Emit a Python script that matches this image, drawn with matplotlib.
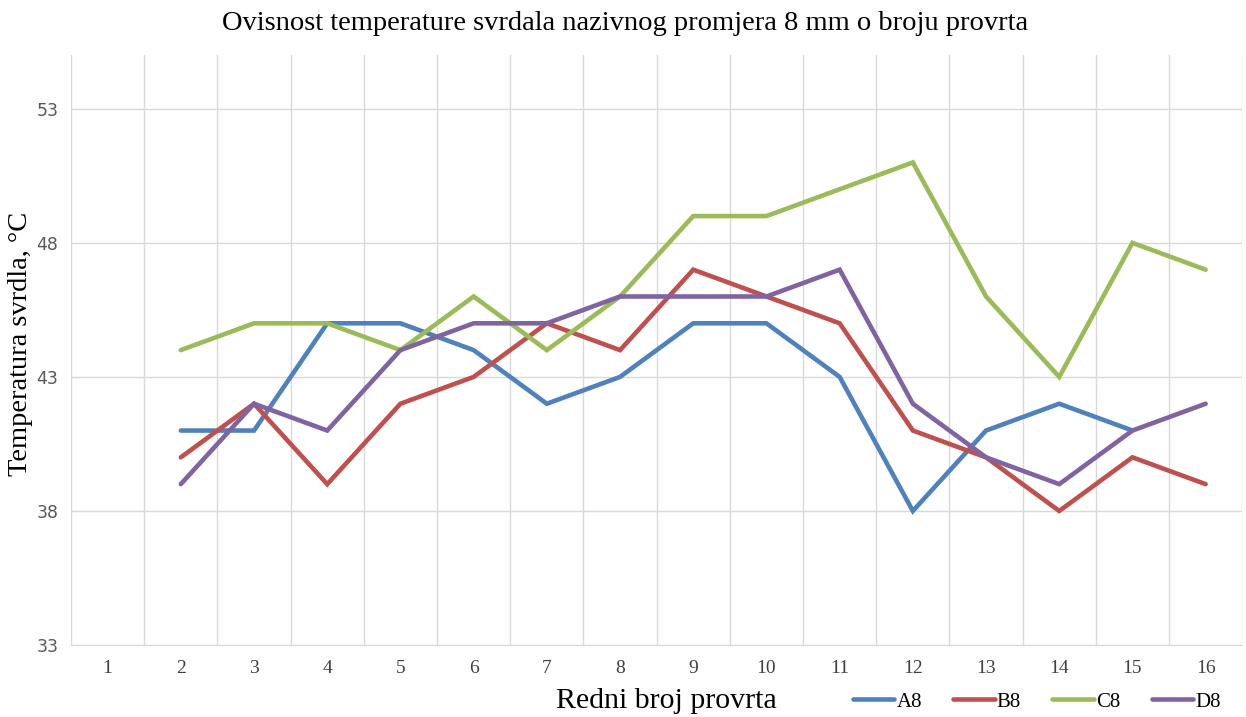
import numpy as np
import matplotlib.pyplot as plt
from matplotlib.ticker import FixedLocator

# redni broj provrta i izmjerene temperature (°C)
holes = np.arange(1, 17)
a8 = [np.nan, 41, 41, 45, 45, 44, 42, 43, 45, 45, 43, 38, 41, 42, 41, np.nan]
b8 = [np.nan, 40, 42, 39, 42, 43, 45, 44, 47, 46, 45, 41, 40, 38, 40, 39]
c8 = [np.nan, 44, 45, 45, 44, 46, 44, 46, 49, 49, 50, 51, 46, 43, 48, 47]
d8 = [np.nan, 39, 42, 41, 44, 45, 45, 46, 46, 46, 47, 42, 40, 39, 41, 42]

series = [("A8", a8, "#4F81BD"), ("B8", b8, "#C0504D"),
          ("C8", c8, "#9BBB59"), ("D8", d8, "#8064A2")]

serif = "Liberation Serif"

fig = plt.figure(figsize=(12.46, 7.17), dpi=100)
ax = fig.add_axes([0.057, 0.1004, 0.94, 0.8226])

for name, vals, col in series:
    ax.plot(holes, vals, color=col, lw=3.3, label=name, solid_capstyle="round",
            solid_joinstyle="miter", zorder=3)

ax.set_xlim(0.5, 16.5)
ax.set_ylim(33, 55)
ax.yaxis.set_major_locator(FixedLocator([33, 38, 43, 48, 53]))
ax.set_xticks(holes)
ax.xaxis.set_minor_locator(FixedLocator(np.arange(0.5, 17, 1)))

ax.grid(axis="y", which="major", color="#D9D9D9", lw=1)
ax.grid(axis="x", which="minor", color="#D9D9D9", lw=1)
ax.set_axisbelow(True)
for s in ["top", "right", "left"]:
    ax.spines[s].set_visible(False)
ax.spines["bottom"].set_color("#D9D9D9")
ax.tick_params(which="both", length=0)
ax.tick_params(axis="x", pad=11, labelsize=14, labelcolor="#404040")
ax.tick_params(axis="y", pad=9, labelsize=12.5, labelcolor="#595959")
for lbl in ax.get_xticklabels():
    lbl.set_fontfamily(serif)

fig.text(0.0165, 0.52, "Temperatura svrdla, °C", family=serif, fontsize=20.5,
         rotation=90, ha="center", va="center")
fig.text(0.535, 0.023, "Redni broj provrta", family=serif, fontsize=21.5,
         ha="center", va="center")
fig.text(0.502, 0.967, "Ovisnost temperature svrdala nazivnog promjera 8 mm o broju provrta",
         family=serif, fontsize=20.5, ha="center", va="center")

fig.legend(loc="center", bbox_to_anchor=(0.832, 0.021), ncol=4, frameon=False,
           prop={"family": serif, "size": 15}, handlelength=2.0, handletextpad=0.1,
           columnspacing=1.5)

fig.savefig("out.png", dpi=100)
